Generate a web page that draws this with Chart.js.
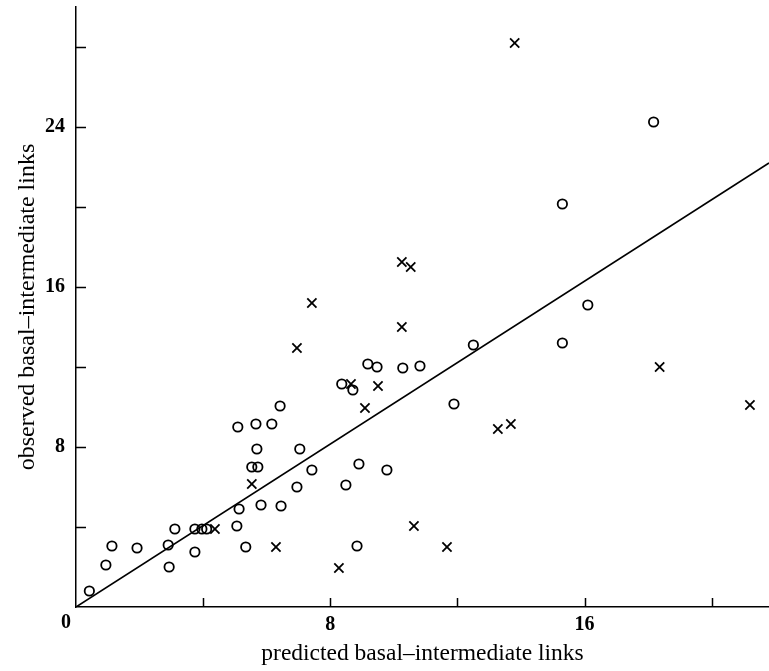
<!DOCTYPE html>
<html><head><meta charset="utf-8">
<script src="https://cdn.jsdelivr.net/npm/chart.js@4/dist/chart.umd.min.js"></script>
<style>html,body{margin:0;padding:0;background:#fff;overflow:hidden}</style>
</head><body>
<div style="width:769px;height:671px;position:relative"><canvas id="c" width="769" height="671"></canvas></div>
<script>
// ---- data ----
const circleX = [0.42, 0.94, 1.13, 1.92, 2.93, 2.90, 3.11, 3.74, 3.74, 3.96, 4.11, 5.06, 5.13, 5.34, 5.82, 6.45, 5.53, 5.72, 5.69, 6.95, 7.42, 7.04, 8.49, 8.84, 8.90, 9.78, 5.09, 5.66, 6.16, 6.42, 8.36, 8.71, 9.18, 9.47, 10.28, 10.82, 11.89, 12.50, 15.30, 16.10, 15.30, 18.17];
const circleY = [0.80, 2.10, 3.05, 2.95, 2.00, 3.10, 3.90, 2.75, 3.90, 3.90, 3.90, 4.05, 4.90, 3.00, 5.10, 5.05, 7.00, 7.00, 7.90, 6.00, 6.85, 7.90, 6.10, 3.05, 7.15, 6.85, 9.00, 9.15, 9.15, 10.05, 11.15, 10.85, 12.15, 12.00, 11.95, 12.05, 10.15, 13.10, 13.20, 15.10, 20.15, 24.25];
const crossX = [4.37, 5.53, 6.29, 6.95, 7.42, 8.27, 8.65, 9.09, 9.50, 10.25, 10.53, 10.25, 10.63, 11.67, 13.27, 13.68, 13.80, 18.36, 21.20];
const crossY = [3.90, 6.15, 3.00, 12.95, 15.20, 1.95, 11.15, 9.95, 11.05, 17.25, 17.00, 14.00, 4.05, 3.00, 8.90, 9.15, 28.20, 12.00, 10.10];
const lineX = [0, 21.8];
const lineY = [0, 22.2];
const xTickValues = [4, 8, 12, 16, 20];
const yTickValues = [4, 8, 12, 16, 20, 24, 28];
const xLabelValues = [8, 16];
const yLabelValues = [8, 16, 24];
const originLabel = '0';
const xTitle = 'predicted basal\u2013intermediate links';
const yTitle = 'observed basal\u2013intermediate links';
const xMin = 0, xMax = 21.8, yMin = 0, yMax = 30;

const toPts = (xs, ys) => xs.map((x, i) => ({x: x, y: ys[i]}));
const SERIF = '"Liberation Serif", "DejaVu Serif", serif';

const innerTicks = {
  id: 'innerTicks',
  afterDraw(chart) {
    const ctx = chart.ctx, xs = chart.scales.x, ys = chart.scales.y, a = chart.chartArea;
    ctx.save();
    ctx.strokeStyle = '#000';
    ctx.lineWidth = 1.5;
    ctx.beginPath();
    xTickValues.forEach(v => { const px = Math.round(xs.getPixelForValue(v)) + 0.5; ctx.moveTo(px, a.bottom); ctx.lineTo(px, a.bottom - 9); });
    yTickValues.forEach(v => { const py = Math.round(ys.getPixelForValue(v)) + 0.5; ctx.moveTo(a.left, py); ctx.lineTo(a.left + 10, py); });
    ctx.stroke();
    ctx.fillStyle = '#000';
    ctx.font = 'bold 20px ' + SERIF;
    ctx.textAlign = 'center';
    ctx.textBaseline = 'middle';
    ctx.fillText(originLabel, xs.getPixelForValue(0) - 10, a.bottom + 16);
    ctx.restore();
  }
};

new Chart(document.getElementById('c'), {
  type: 'scatter',
  data: {
    datasets: [
      { type: 'line', data: toPts(lineX, lineY), borderColor: '#000', borderWidth: 1.6, pointRadius: 0, fill: false, order: 3 },
      { data: toPts(circleX, circleY), pointStyle: 'circle', pointRadius: 4.7, borderColor: '#000', backgroundColor: 'rgba(0,0,0,0)', borderWidth: 1.8, order: 1 },
      { data: toPts(crossX, crossY), pointStyle: 'crossRot', pointRadius: 6.5, borderColor: '#000', borderWidth: 1.8, order: 2 }
    ]
  },
  options: {
    responsive: false,
    animation: false,
    devicePixelRatio: 1,
    layout: { autoPadding: false, padding: { top: 7, right: 0, left: 0, bottom: 0 } },
    plugins: { legend: { display: false }, tooltip: { enabled: false } },
    scales: {
      x: {
        type: 'linear', min: xMin, max: xMax,
        afterFit(s) { s.height = 64; s.paddingLeft = 0; s.paddingRight = 0; },
        border: { display: true, color: '#000', width: 1.5 },
        grid: { display: true, drawOnChartArea: false, drawTicks: false },
        ticks: {
          includeBounds: false, stepSize: 4, maxRotation: 0, autoSkip: false, padding: 6,
          color: '#000', font: { family: SERIF, size: 20, weight: 'bold' },
          callback: v => xLabelValues.includes(v) ? String(v) : ''
        },
        title: { display: true, text: xTitle, color: '#000', font: { family: SERIF, size: 23.5 }, padding: { top: 0, bottom: 3 } }
      },
      y: {
        type: 'linear', min: yMin, max: yMax,
        afterFit(s) { s.width = 76; s.paddingTop = 0; s.paddingBottom = 0; },
        border: { display: true, color: '#000', width: 1.5 },
        grid: { display: true, drawOnChartArea: false, drawTicks: false },
        ticks: {
          includeBounds: false, stepSize: 4, autoSkip: false, padding: 11,
          color: '#000', font: { family: SERIF, size: 20, weight: 'bold' },
          callback: v => yLabelValues.includes(v) ? String(v) : ''
        },
        title: { display: true, text: yTitle, color: '#000', font: { family: SERIF, size: 24 }, padding: { top: 13, bottom: 0 } }
      }
    }
  },
  plugins: [innerTicks]
});
</script>
</body></html>
